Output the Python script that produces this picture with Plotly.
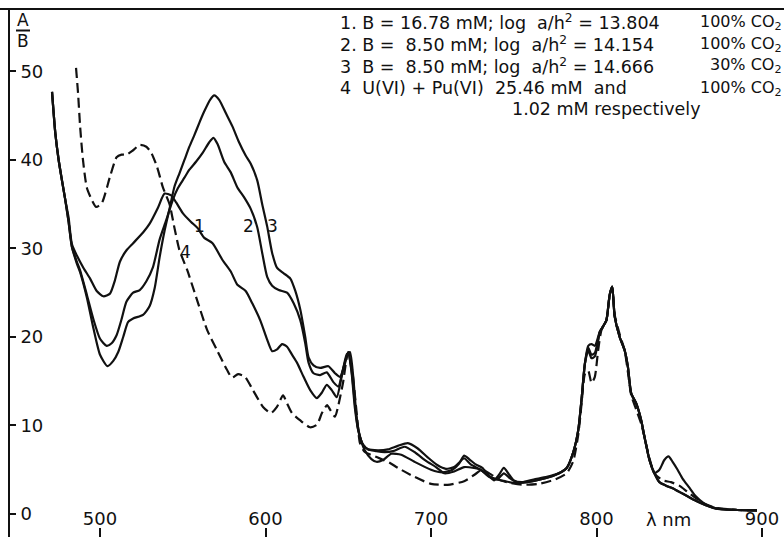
import plotly.graph_objects as go

# ---------------- data ----------------
wl1 = [471, 473, 475, 477, 479, 481, 483, 486, 490, 494, 498, 502, 506, 509, 512, 516, 520, 526, 530, 535,
       539, 543, 546, 550, 555, 559, 563, 568, 574, 579, 583, 588, 592, 597, 601, 604, 607, 610, 613, 616,
       619, 623, 627, 631, 634, 637, 640, 643, 646, 649, 651, 653, 655, 657, 660, 664, 667, 671, 676, 682,
       690, 700, 707, 713, 717, 720, 723, 727, 731, 735, 738, 741, 744, 747, 750, 755, 762, 770, 777, 782,
       786, 789, 791, 793, 795, 797, 799, 802, 804, 806, 808, 809.5, 811, 814, 817, 819, 821, 824, 827, 829,
       832, 835, 838, 841, 843.5, 846, 849, 852, 856, 860, 865, 872, 885, 897]
ab1 = [47.7, 43.0, 40.0, 37.7, 35.5, 33.5, 30.5, 29.2, 27.8, 26.6, 25.2, 24.6, 24.9, 26.4, 28.5, 29.8, 30.6, 31.8, 32.8, 34.6,
       36.2, 36.0, 35.2, 34.0, 33.0, 32.3, 31.2, 30.6, 28.7, 27.4, 25.9, 25.2, 23.8, 21.8, 19.7, 18.4, 18.6, 19.2, 18.9, 18.0,
       17.1, 15.5, 14.0, 13.1, 13.7, 14.6, 14.0, 13.2, 15.5, 18.0, 18.3, 15.5, 11.0, 8.8, 7.2, 6.2, 5.9, 6.1, 6.8, 6.7,
       5.9, 5.0, 4.7, 5.0, 5.7, 6.6, 6.2, 5.6, 5.2, 4.3, 3.8, 4.4, 5.2, 4.5, 3.8, 3.6, 3.9, 4.2, 4.6, 5.2,
       7.0, 9.5, 13.0, 17.0, 18.5, 17.6, 17.8, 20.5, 21.2, 21.9, 24.8, 25.7, 22.3, 20.0, 18.5, 16.6, 13.6, 12.5, 10.6, 8.7,
       6.1, 4.6, 5.0, 6.1, 6.5, 5.9, 5.0, 4.0, 3.0, 2.0, 1.2, 0.6, 0.45, 0.4]

wl2 = [471, 473, 475, 477, 479, 481, 483, 486, 488, 492, 496, 500, 504, 507, 510, 513, 516, 520, 524, 528,
       532, 536, 540, 544, 547, 551, 554, 558, 562, 566, 568.5, 571, 575, 579, 583, 587, 591, 595, 598, 601,
       604, 608, 613, 617, 621, 624, 626, 629, 633, 637, 641, 644, 647, 650, 652, 654, 656, 659, 662, 667,
       672, 677, 684, 690, 697, 703, 708, 714, 720, 726, 730, 735, 740, 745, 750, 758, 766, 775, 782, 786,
       789, 791, 793, 795, 797, 799, 802, 804, 806, 808, 809.5, 811, 814, 817, 819, 821, 824, 827, 829, 832,
       835, 838, 842, 846, 850, 855, 860, 866, 873, 885, 897]
ab2 = [47.7, 43.0, 40.0, 37.7, 35.5, 33.0, 30.2, 28.5, 27.5, 24.8, 22.0, 19.8, 19.0, 19.3, 20.2, 22.0, 24.0, 25.0, 25.3, 26.3,
       27.9, 31.0, 33.2, 35.5, 36.8, 38.0, 38.9, 39.8, 40.8, 42.0, 42.5, 41.8, 39.8, 38.6, 36.9, 35.8, 34.5, 32.4, 29.5, 26.8,
       25.8, 25.3, 25.0, 23.8, 21.9, 19.3, 17.1, 15.9, 15.7, 16.0, 14.9, 14.4, 16.5, 18.3, 16.0, 12.0, 9.5, 7.8, 7.3, 7.1,
       7.0, 7.1, 7.6, 7.0, 6.0, 5.3, 4.6, 4.8, 5.3, 5.2, 5.0, 4.2, 3.9, 3.7, 3.5, 3.6, 3.9, 4.4, 5.2, 7.0,
       9.5, 13.0, 17.0, 18.8, 18.0, 18.2, 20.6, 21.2, 21.9, 24.8, 25.7, 22.3, 20.0, 18.5, 16.6, 13.6, 12.5, 10.6, 8.7, 6.1,
       4.6, 3.6, 3.2, 2.9, 2.5, 2.0, 1.5, 1.0, 0.6, 0.45, 0.4]

wl3 = [471, 473, 475, 477, 479, 481, 483, 486, 488, 492, 496, 500, 504.5, 508, 511, 514, 517, 520, 526, 530,
       533, 536, 539, 542, 545, 548, 551, 554, 557, 560, 563, 566.5, 569, 572, 576, 580, 584, 588, 591, 595,
       598, 601, 604, 607, 611, 615, 618, 621, 624, 626, 629, 633, 638, 642, 645, 648, 650, 652, 654, 656,
       659, 662, 668, 674, 680, 686, 692, 698, 704, 709, 714, 717, 720, 724, 730, 735, 740, 744, 748, 752,
       758, 766, 775, 782, 786, 789, 791, 793, 795, 797, 799, 802, 804, 806, 808, 809.5, 811, 814, 817, 819,
       821, 824, 827, 829, 832, 835, 838, 842, 846, 850, 855, 860, 866, 873, 885, 897]
ab3 = [47.7, 43.0, 40.0, 37.7, 35.5, 33.0, 30.2, 28.3, 27.3, 24.5, 21.0, 18.0, 16.7, 17.3, 18.3, 20.0, 21.7, 22.1, 22.5, 23.5,
       25.5, 29.0, 32.0, 34.5, 37.0, 38.5, 40.0, 41.5, 42.8, 44.2, 45.5, 46.8, 47.3, 46.8, 45.3, 43.8, 42.0, 40.5, 39.6, 37.7,
       35.0, 32.5, 29.5, 27.8, 27.2, 26.6, 25.2, 23.1, 20.0, 17.7, 16.8, 16.5, 16.7, 15.9, 15.5, 17.0, 18.3, 16.2, 12.5, 9.5,
       7.8, 7.3, 7.2, 7.3, 7.7, 8.0, 7.4, 6.4, 5.5, 5.1, 5.3, 5.8, 6.3, 5.6, 5.0, 4.3, 3.9, 4.6, 4.0, 3.6,
       3.6, 3.9, 4.4, 5.2, 7.0, 9.5, 13.0, 17.0, 19.0, 19.2, 19.0, 20.6, 21.2, 21.9, 24.8, 25.7, 22.3, 20.0, 18.5, 16.6,
       13.6, 12.5, 10.6, 8.7, 6.1, 4.6, 3.6, 3.2, 2.9, 2.5, 2.0, 1.5, 1.0, 0.6, 0.45, 0.4]

wl4 = [485.5, 486.7, 488, 489.7, 492, 495, 497.6, 501, 506, 510, 513, 516, 520, 524, 528, 531, 534.5, 538, 542, 545,
       548, 552.6, 558.6, 564.7, 570.7, 576.7, 579.8, 583.4, 587.6, 592.4, 598.5, 603.3, 606.9, 610.6, 613, 616, 620.8, 626.9, 631.1, 634.1,
       637.2, 639, 642, 643.8, 646.8, 649.8, 652.3, 655.3, 657.1, 660, 665, 670, 675, 680, 690, 700, 710, 720, 726, 731,
       736, 742, 748, 755, 765, 775, 782, 786, 789, 791, 793, 795, 797, 799, 801, 803, 806, 808, 809.5, 811,
       814, 817, 819, 821, 824, 827, 829, 832, 835, 840, 845, 850, 855, 860, 865, 872, 885, 897]
ab4 = [50.4, 47.6, 43.7, 40.0, 36.9, 35.5, 34.7, 35.1, 38.1, 40.3, 40.6, 40.6, 41.1, 41.7, 41.5, 40.8, 39.2, 36.9, 35.0, 32.3,
       29.8, 27.6, 24.2, 20.8, 18.5, 16.3, 15.4, 15.8, 15.5, 14.0, 12.1, 11.4, 12.1, 13.4, 12.5, 11.4, 10.6, 9.8, 10.1, 11.4,
       12.3, 11.8, 11.0, 12.1, 14.8, 18.2, 16.3, 11.0, 8.0, 7.0, 6.6, 6.2, 5.8, 5.2, 4.2, 3.4, 3.3, 3.7, 4.4, 5.0,
       4.5, 3.8, 3.5, 3.3, 3.4, 3.9, 4.6, 6.0, 9.0, 12.5, 15.8, 16.2, 14.8, 15.5, 18.5, 20.8, 21.9, 24.8, 25.6, 22.5,
       20.3, 18.5, 16.0, 13.4, 11.8, 10.2, 8.7, 6.3, 4.6, 3.8, 3.6, 3.2, 2.5, 1.8, 1.2, 0.7, 0.45, 0.4]

x_ticks = [500, 600, 700, 800, 900]
x_tick_text = ["500", "600", "700", "800", "900"]
y_ticks = [0, 10, 20, 30, 40, 50]
y_tick_text = ["0", "10", "20", "30", "40", "50"]

curve_labels = ["1", "2", "3", "4"]
curve_label_x = [560.4, 590.0, 604.0, 551.6]
curve_label_y = [32.5, 32.5, 32.5, 29.6]

legend_left = [
    "1. B = 16.78 mM; log  a/h<sup>2</sup> = 13.804",
    "2. B =  8.50 mM; log  a/h<sup>2</sup> = 14.154",
    "3  B =  8.50 mM; log  a/h<sup>2</sup> = 14.666",
    "4  U(VI) + Pu(VI)  25.46 mM  and",
]
legend_right = [
    "100% CO<sub>2</sub>",
    "100% CO<sub>2</sub>",
    "30% CO<sub>2</sub>",
    "100% CO<sub>2</sub>",
]
legend_last = "1.02 mM respectively"

# ---------------- figure ----------------
W, H = 784, 537
ML, MT = 10, 9
FONT = "DejaVu Sans"
INK = "#111111"
X_RANGE = [445.6, 913.3]

fig = go.Figure()
series = [(wl1, ab1, "solid", "x"), (wl2, ab2, "solid", "x"), (wl3, ab3, "solid", "x"),
          (wl4, ab4, "10px,5px", "x2")]
for wl, ab, dash, xa in series:
    fig.add_trace(go.Scatter(x=wl, y=ab, mode="lines", xaxis=xa, yaxis="y",
                             line=dict(color=INK, width=2.2, dash=dash, shape="spline", smoothing=0.6),
                             hoverinfo="skip", showlegend=False))

annotations = []
for t, lx, ly in zip(curve_labels, curve_label_x, curve_label_y):
    annotations.append(dict(x=lx, y=ly, xref="x", yref="y", text=t, showarrow=False,
                            xanchor="center", yanchor="middle",
                            font=dict(family=FONT, size=17, color=INK)))

ph = H - MT
pw = W - ML
def py(p):
    return (H - p) / ph
def px(p):
    return (p - ML) / pw

line_y = [22, 44, 66, 88]
for txt, yy in zip(legend_left, line_y):
    annotations.append(dict(x=px(338), y=py(yy), xref="paper", yref="paper", text=txt,
                            showarrow=False, xanchor="left", yanchor="middle",
                            font=dict(family=FONT, size=17.5, color=INK)))
for txt, yy in zip(legend_right, line_y):
    annotations.append(dict(x=1.0, y=py(yy), xref="paper", yref="paper", text=txt,
                            showarrow=False, xanchor="right", yanchor="middle",
                            font=dict(family=FONT, size=16, color=INK)))
annotations.append(dict(x=px(606), y=py(109), xref="paper", yref="paper", text=legend_last,
                        showarrow=False, xanchor="center", yanchor="middle",
                        font=dict(family=FONT, size=17.5, color=INK)))

# axis titles
annotations.append(dict(x=843.5, y=-0.6, xref="x", yref="y", text="λ nm", showarrow=False,
                        xanchor="center", yanchor="middle",
                        font=dict(family=FONT, size=18, color=INK)))
annotations.append(dict(x=px(23), y=py(20), xref="paper", yref="paper", text="A",
                        showarrow=False, xanchor="center", yanchor="middle",
                        font=dict(family=FONT, size=17, color=INK)))
annotations.append(dict(x=px(23), y=py(41), xref="paper", yref="paper", text="B",
                        showarrow=False, xanchor="center", yanchor="middle",
                        font=dict(family=FONT, size=17, color=INK)))

shapes = [
    dict(type="line", xref="paper", yref="paper", x0=px(16), x1=px(30),
         y0=py(30.5), y1=py(30.5), line=dict(color=INK, width=2)),
    dict(type="line", xref="paper", yref="paper", x0=px(0), x1=1.0,
         y0=py(9), y1=py(9), line=dict(color=INK, width=2)),
]

fig.update_layout(
    width=W, height=H,
    margin=dict(l=ML, r=0, t=MT, b=0),
    paper_bgcolor="white", plot_bgcolor="white",
    showlegend=False,
    annotations=annotations,
    shapes=shapes,
    # bottom axis: line and upward tick marks
    xaxis=dict(range=X_RANGE, tickvals=x_ticks, ticktext=x_tick_text,
               ticks="inside", ticklen=9, tickwidth=2, tickcolor=INK,
               showticklabels=False,
               showline=True, linecolor="#c8c8c8", linewidth=1,
               showgrid=False, zeroline=False),
    # same scale, carries the tick labels just above the bottom tick marks
    xaxis2=dict(range=X_RANGE, overlaying="x", anchor="free", side="top",
                position=py(529), tickvals=x_ticks, ticktext=x_tick_text,
                ticks="", showline=False, showgrid=False, zeroline=False,
                ticklabelstandoff=0,
                tickfont=dict(family=FONT, size=18, color=INK)),
    yaxis=dict(range=[-2.6, 57.06], tickvals=y_ticks, ticktext=y_tick_text,
               ticks="inside", ticklen=6, tickwidth=2, tickcolor=INK,
               ticklabelposition="inside", ticklabelstandoff=5,
               showline=True, linecolor=INK, linewidth=2,
               showgrid=False, zeroline=False,
               tickfont=dict(family=FONT, size=18, color=INK)),
)

fig.write_html("out.html")
